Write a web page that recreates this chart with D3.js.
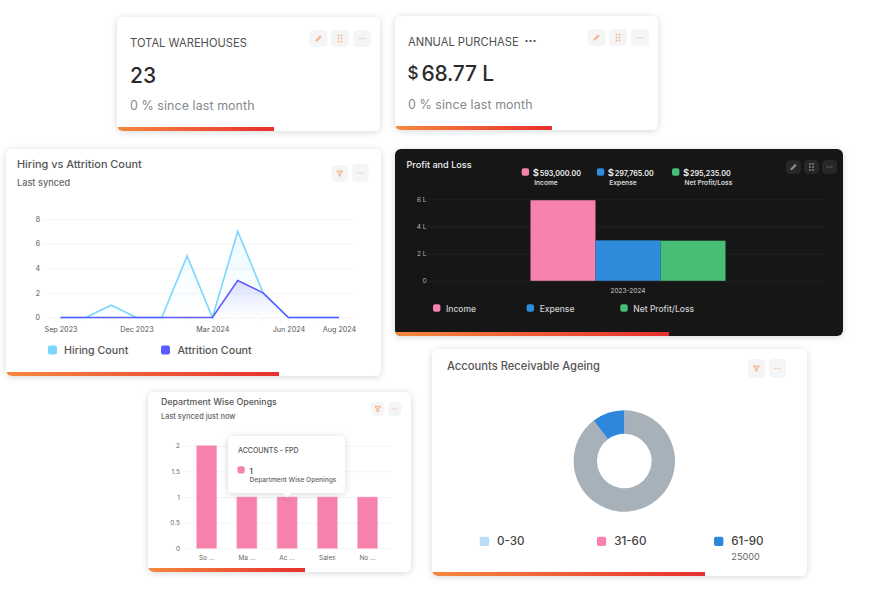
<!DOCTYPE html>
<html>
<head>
<meta charset="utf-8">
<script src="https://cdnjs.cloudflare.com/ajax/libs/d3/7.8.5/d3.min.js"></script>
<style>
  html, body { margin: 0; padding: 0; background: #fff; }
  svg { display: block; font-family: Inter, "Noto Sans", sans-serif; }
  .domain { display: none; }
</style>
</head>
<body>
<svg id="board" width="883" height="608"></svg>
<script>
// chart values
var months = ["Sep 2023", "Oct 2023", "Nov 2023", "Dec 2023", "Jan 2024", "Feb 2024", "Mar 2024", "Apr 2024", "May 2024", "Jun 2024", "Jul 2024", "Aug 2024"];
var monthTicks = ["Sep 2023", "Dec 2023", "Mar 2024", "Jun 2024", "Aug 2024"];
var hiringCount = [0, 0, 1, 0, 0, 5, 0, 7, 2, 0, 0, 0];
var attritionCount = [0, 0, 0, 0, 0, 0, 0, 3, 2, 0, 0, 0];
var countTicks = [0, 2, 4, 6, 8];

var years = ["2023-2024"];
var plSeries = ["Income", "Expense", "Net Profit/Loss"];
var plValues = [593000, 297765, 295235];
var plTicks = [0, 200000, 400000, 600000];

var departments = ["So ...", "Ma ...", "Ac ...", "Sales", "No ..."];
var openings = [2, 1, 1, 1, 1];
var openingTicks = [0, 0.5, 1, 1.5, 2];

var ageingLabels = ["Above 90", "0-30", "31-60", "61-90"];
var ageingValues = [218000, 0, 0, 25000];

var PINK = "#f882ae", BLUE = "#2f8bdc", GREEN = "#48bd76";
var svg = d3.select("#board");
var defs = svg.append("defs");

var shadow = defs.append("filter").attr("id", "shadow")
    .attr("x", "-10%").attr("y", "-10%").attr("width", "120%").attr("height", "125%");
shadow.append("feDropShadow").attr("dx", 0).attr("dy", 1).attr("stdDeviation", 3.5)
    .attr("flood-color", "#000").attr("flood-opacity", 0.16);

var footer = defs.append("linearGradient").attr("id", "footer");
footer.append("stop").attr("offset", 0).attr("stop-color", "#f6893e");
footer.append("stop").attr("offset", 1).attr("stop-color", "#e72f2f");

function fade(id, color, top) {
  var g = defs.append("linearGradient").attr("id", id).attr("x1", 0).attr("x2", 0).attr("y1", 0).attr("y2", 1);
  g.append("stop").attr("offset", 0).attr("stop-color", color).attr("stop-opacity", top);
  g.append("stop").attr("offset", 1).attr("stop-color", color).attr("stop-opacity", 0);
}
fade("hireFade", "#7ad6ff", 0.13);
fade("leaveFade", "#5a5cff", 0.18);

var cardCount = 0;
function card(x, y, w, h, barW, bg) {
  var id = "clip" + (cardCount++);
  defs.append("clipPath").attr("id", id).append("rect")
      .attr("x", x).attr("y", y).attr("width", w).attr("height", h).attr("rx", 6);
  svg.append("rect").attr("x", x).attr("y", y).attr("width", w).attr("height", h).attr("rx", 6)
      .attr("fill", bg || "#fff").attr("filter", "url(#shadow)");
  svg.append("rect").attr("x", x).attr("y", y + h - 4).attr("width", barW).attr("height", 4)
      .attr("fill", "url(#footer)").attr("clip-path", "url(#" + id + ")");
}

function label(x, y, text, size, color, weight, anchor) {
  return svg.append("text").attr("x", x).attr("y", y).text(text)
      .attr("font-size", size).attr("fill", color)
      .attr("font-weight", weight || 400).attr("text-anchor", anchor || "start");
}

function swatch(x, y, s, color) {
  svg.append("rect").attr("x", x).attr("y", y).attr("width", s).attr("height", s).attr("rx", 2).attr("fill", color);
}

// little toolbar buttons in the card corners
function button(x, y, w, h, kind, bg, ink) {
  var g = svg.append("g").attr("transform", "translate(" + x + "," + y + ")");
  g.append("rect").attr("width", w).attr("height", h).attr("rx", 4.5).attr("fill", bg || "#f5f5f5");
  var c = g.append("g").attr("transform", "translate(" + w / 2 + "," + h / 2 + ")");
  ink = ink || "#f5b48a";
  if (kind == "edit") {
    c.append("path").attr("d", "M-3 3L-3 1.4L1.6-3.2L3.2-1.6L-1.4 3Z").attr("fill", ink);
  } else if (kind == "grip") {
    [-1.5, 1.5].forEach(function(dx) {
      [-3, 0, 3].forEach(function(dy) {
        c.append("rect").attr("x", dx - 0.8).attr("y", dy - 0.8).attr("width", 1.6).attr("height", 1.6).attr("fill", ink);
      });
    });
  } else if (kind == "more") {
    [-2.2, 0, 2.2].forEach(function(dx) {
      c.append("rect").attr("x", dx - 0.7).attr("y", -0.5).attr("width", 1.4).attr("height", 1).attr("fill", ink).attr("opacity", 0.8);
    });
  } else {
    c.append("path").attr("d", "M-3-2.6L3-2.6L0.7 0.6L0.7 2.6L-0.7 2.6L-0.7 0.6Z")
        .attr("fill", "#fbd9c3").attr("stroke", "#f3a877").attr("stroke-width", 0.8);
  }
}

function styleAxis(g, size, color, grid) {
  g.selectAll("text").attr("font-size", size).attr("fill", color).attr("font-family", "Inter, sans-serif");
  g.selectAll("line").attr("stroke", grid);
  g.attr("font-family", null).attr("font-size", null);
}

// KPI cards
card(117, 17, 263, 114, 157);
label(130, 47, "TOTAL WAREHOUSES", 11.2, "#4f4f4f");
label(130, 82.5, "23", 21, "#2b2b2b", 500);
label(130, 110, "0 % since last month", 12.4, "#85888c").attr("letter-spacing", 0.1);
button(309.5, 30, 18, 17, "edit");
button(331, 30, 18, 17, "grip");
button(353, 30, 18, 17, "more");

card(395, 16, 263, 114, 157);
label(408, 46, "ANNUAL PURCHASE", 11.2, "#4f4f4f");
label(524.5, 45, "···", 12, "#4a4a4a", 700);
label(407.5, 79, "$", 17, "#2b2b2b", 500);
label(421.5, 81, "68.77 L", 21, "#2b2b2b", 500).attr("letter-spacing", -0.2);
label(408, 109, "0 % since last month", 12.4, "#85888c").attr("letter-spacing", 0.1);
button(587.5, 29, 18, 17, "edit");
button(609, 29, 18, 17, "grip");
button(631, 29, 18, 17, "more");

// Hiring vs Attrition
card(6, 149, 375, 227, 273);
label(17, 168, "Hiring vs Attrition Count", 10.9, "#555", 500);
label(17, 185.5, "Last synced", 9.2, "#666", 500);
button(331.5, 165, 16.5, 17, "filter");
button(352, 164, 16.5, 18, "more");

var lineX = d3.scalePoint().domain(months).range([60.5, 339]);
var lineY = d3.scaleLinear().domain([0, 8]).range([317.5, 219]);

svg.append("g").attr("transform", "translate(44,0)")
    .call(d3.axisLeft(lineY).tickValues(countTicks).tickSize(-312).tickPadding(4))
    .call(styleAxis, 7, "#555", "#f4f5f7");
svg.append("g").attr("transform", "translate(0,317.5)")
    .call(d3.axisBottom(lineX).tickSize(3).tickPadding(6).tickFormat(function(m) {
      return monthTicks.indexOf(m) >= 0 ? m : "";
    }))
    .call(styleAxis, 7.2, "#555", "#eef0f3");

function drawSeries(values, color, fill) {
  var area = d3.area().x(function(d, i) { return lineX(months[i]); }).y0(lineY(0)).y1(function(d) { return lineY(d); });
  var line = d3.line().x(function(d, i) { return lineX(months[i]); }).y(function(d) { return lineY(d); });
  svg.append("path").datum(values).attr("d", area).attr("fill", "url(#" + fill + ")");
  svg.append("path").datum(values).attr("d", line).attr("fill", "none").attr("stroke", color).attr("stroke-width", 1.6);
}
drawSeries(hiringCount, "#7ad6ff", "hireFade");
drawSeries(attritionCount, "#5a5cff", "leaveFade");

swatch(48, 345.5, 9, "#7ad6ff");
label(64, 354, "Hiring Count", 10.7, "#555", 500);
swatch(161, 345.5, 9, "#5a5cff");
label(177.5, 354, "Attrition Count", 10.7, "#555", 500);

// Profit and Loss
card(395, 149, 448, 187, 274, "#161616");
label(406.5, 168, "Profit and Loss", 9.1, "#f2f2f2", 500);
button(786, 160, 15, 14, "edit", "#272727", "#8c8c8c");
button(804, 160, 15, 14, "grip", "#272727", "#8c8c8c");
button(822, 160, 15, 14, "more", "#272727", "#8c8c8c");

var plColor = d3.scaleOrdinal().domain(plSeries).range([PINK, BLUE, GREEN]);
var plMoney = d3.format(",.2f");
var topKeyX = d3.scalePoint().domain(plSeries).range([521.7, 672]);
var keyX = d3.scalePoint().domain(plSeries).range([433, 620.3]);

plSeries.forEach(function(name, i) {
  var x = topKeyX(name);
  swatch(x, 168.3, 7.4, plColor(name));
  label(x + 11, 175.5, "$", 9.5, "#f2f2f2", 600);
  label(x + 18, 175.5, plMoney(plValues[i]), 7.2, "#f2f2f2", 600);
  label(x + 12.5, 185, name, 6.6, "#d8d8d8", 600);
  swatch(keyX(name), 304.3, 7.4, plColor(name));
  label(keyX(name) + 13, 311.5, name, 8.5, "#d0d0d0", 500);
});

var plY = d3.scaleLinear().domain([0, 600000]).range([280.8, 199.3]);
var yearX = d3.scaleBand().domain(years).range([428, 828]).paddingInner(0).paddingOuter(0.5256);
var seriesX = d3.scaleBand().domain(plSeries).range([0, yearX.bandwidth()]);

svg.append("g").attr("transform", "translate(427,0)")
    .call(d3.axisLeft(plY).tickValues(plTicks).tickSize(-400).tickPadding(0.5).tickFormat(function(d) {
      return d ? d / 100000 + " L" : "0";
    }))
    .call(styleAxis, 6.5, "#b8b8b8", "#212121");
svg.append("g").attr("transform", "translate(0,280.8)")
    .call(d3.axisBottom(yearX).tickSize(2).tickPadding(6))
    .call(styleAxis, 6.5, "#d0d0d0", "#212121");

svg.append("g").selectAll("rect").data(plSeries).join("rect")
    .attr("x", function(d) { return yearX(years[0]) + seriesX(d); })
    .attr("width", seriesX.bandwidth())
    .attr("y", function(d, i) { return plY(plValues[i]); })
    .attr("height", function(d, i) { return plY(0) - plY(plValues[i]); })
    .attr("fill", function(d) { return plColor(d); });

// Department Wise Openings
card(148, 392, 263, 180, 157);
label(161, 405, "Department Wise Openings", 8.8, "#555", 500);
label(161, 418.5, "Last synced just now", 7.4, "#666", 500);
button(371, 402, 13.5, 14, "filter");
button(388, 402, 13.5, 14, "more");

var deptX = d3.scaleBand().domain(departments).range([186.6, 387.6]).paddingInner(0.5).paddingOuter(0.25);
var deptY = d3.scaleLinear().domain([0, 2]).range([548.3, 445.7]);

svg.append("g").attr("transform", "translate(182,0)")
    .call(d3.axisLeft(deptY).tickValues(openingTicks).tickSize(-209).tickPadding(2).tickFormat(d3.format("")))
    .call(styleAxis, 6.5, "#666", "#f3f4f6");
svg.append("g").attr("transform", "translate(0,548.3)")
    .call(d3.axisBottom(deptX).tickSize(0).tickPadding(7))
    .call(styleAxis, 6.5, "#666", "#f3f4f6");

svg.append("g").selectAll("rect").data(departments).join("rect")
    .attr("x", function(d) { return deptX(d); })
    .attr("width", deptX.bandwidth())
    .attr("y", function(d, i) { return deptY(openings[i]); })
    .attr("height", function(d, i) { return deptY(0) - deptY(openings[i]); })
    .attr("fill", "#f681ad").attr("stroke", "#fbb3cf").attr("stroke-width", 0.6);

// hover tooltip over the third bar
var tip = svg.append("g");
tip.append("path").attr("d", "M233 436H340Q345 436 345 441V488Q345 493 340 493H291L287 497L283 493H233Q228 493 228 488V441Q228 436 233 436Z")
    .attr("fill", "#fff").attr("filter", "url(#shadow)");
label(238, 452.5, "ACCOUNTS - FPD", 7, "#555", 500);
swatch(237.5, 466.3, 7.2, PINK);
label(249.5, 473.5, openings[2], 7.8, "#444", 500);
label(249.5, 482.3, "Department Wise Openings", 6.6, "#666", 500);

// Accounts Receivable Ageing
card(432, 349, 375, 227, 273);
label(447, 370, "Accounts Receivable Ageing", 11.2, "#555", 500);
button(748, 359, 17, 19, "filter");
button(769, 359, 17, 19, "more");

var ageingColor = d3.scaleOrdinal().domain(ageingLabels).range(["#a6b1b9", "#b9dcf8", PINK, "#2d88db"]);
var pie = d3.pie().sort(null);
var arc = d3.arc().innerRadius(27.3).outerRadius(50.7);

svg.append("g").attr("transform", "translate(624.3,461)")
  .selectAll("path").data(pie(ageingValues)).join("path")
    .attr("d", arc)
    .attr("fill", function(d, i) { return ageingColor(ageingLabels[i]); });

var ageingKeyX = d3.scalePoint().domain(ageingLabels.slice(1)).range([479.7, 714]);
ageingLabels.slice(1).forEach(function(name) {
  swatch(ageingKeyX(name), 536.7, 9.4, ageingColor(name));
  label(ageingKeyX(name) + 17.3, 545, name, 11.6, "#444", 500);
});
label(ageingKeyX("61-90") + 17.3, 560, ageingValues[3], 9.2, "#666");
</script>
</body>
</html>
